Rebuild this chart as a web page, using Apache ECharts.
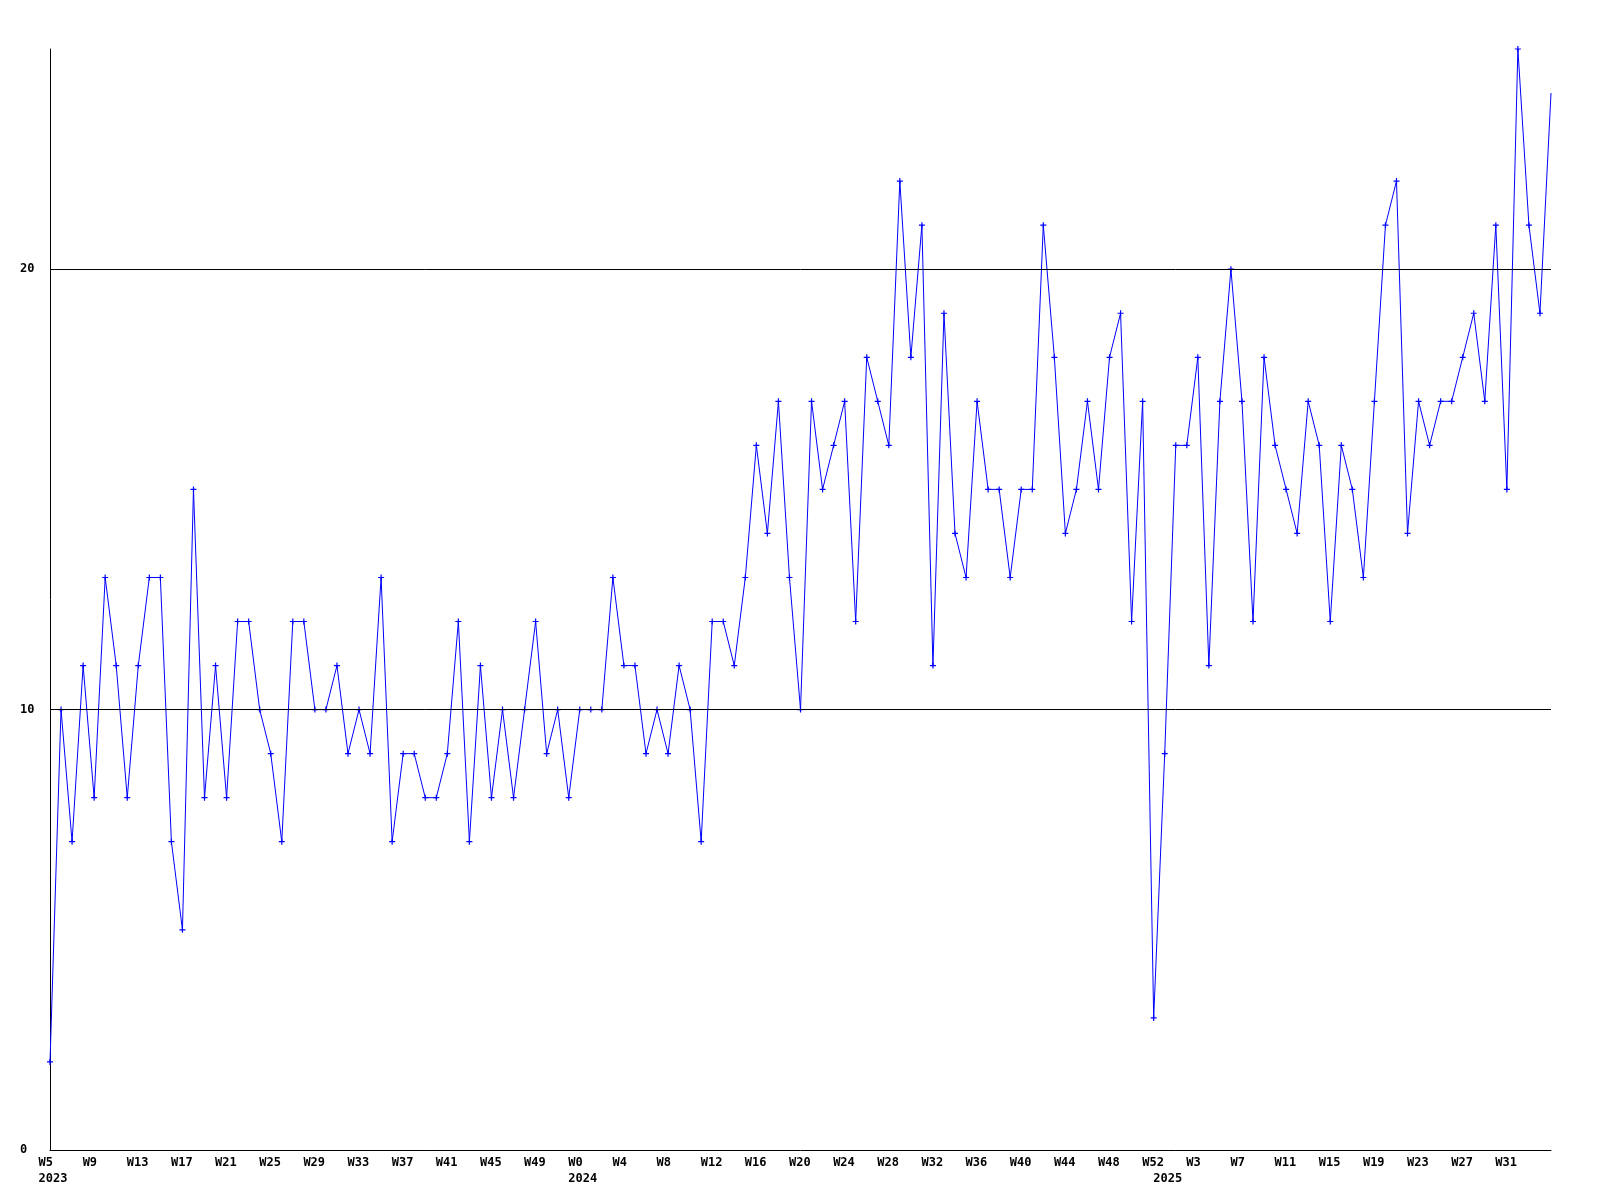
<!DOCTYPE html>
<html><head><meta charset="utf-8">
<script src="https://cdn.jsdelivr.net/npm/echarts@6/dist/echarts.min.js"></script>
<style>html,body{margin:0;padding:0;background:#fff}#c{width:1600px;height:1200px}</style>
</head><body><div id="c"></div>
<script>
// Week numbers per year (x categories)
const weeks2023 = [5,6,7,8,9,10,11,12,13,14,15,16,17,18,19,20,21,22,23,24,25,26,27,28,29,30,31,32,33,34,35,36,37,38,39,40,41,42,43,44,45,46,47,48,49,50,51,52];
const weeks2024 = [0,1,2,3,4,5,6,7,8,9,10,11,12,13,14,15,16,17,18,19,20,21,22,23,24,25,26,27,28,29,30,31,32,33,34,35,36,37,38,39,40,41,42,43,44,45,46,47,48,49,50,51,52];
const weeks2025 = [0,1,2,3,4,5,6,7,8,9,10,11,12,13,14,15,16,17,18,19,20,21,22,23,24,25,26,27,28,29,30,31,32,33,34,35];

// Weekly values
const values2023 = [2,10,7,11,8,13,11,8,11,13,13,7,5,15,8,11,8,12,12,10,9,7,12,12,10,10,11,9,10,9,13,7,9,9,8,8,9,12,7,11,8,10,8,10,12,9,10,8];
const values2024 = [10,10,10,13,11,11,9,10,9,11,10,7,12,12,11,13,16,14,17,13,10,17,15,16,17,12,18,17,16,22,18,21,11,19,14,13,17,15,15,13,15,15,21,18,14,15,17,15,18,19,12,17,3];
const values2025 = [9,16,16,18,11,17,20,17,12,18,16,15,14,17,16,12,16,15,13,17,21,22,14,17,16,17,17,18,19,17,21,15,25,21,19,24];

// Axis settings
const yMin = 0, yMax = 25, yInterval = 10;
const gridValues = [10, 20];
const labelEvery = 4;

const years = [[2023, weeks2023, values2023],[2024, weeks2024, values2024],[2025, weeks2025, values2025]];
const categories = [];
const values = [];
const yearStart = {};
years.forEach(([yr, wk, vals]) => {
  yearStart[categories.length] = yr;
  wk.forEach((w, i) => { categories.push(yr + '-W' + w); values.push(vals[i]); });
});

const FONT = 'DejaVu Sans Mono';
const plus = 'path://M2 0L3 0L3 2L5 2L5 3L3 3L3 5L2 5L2 3L0 3L0 2L2 2Z';
const lastIdx = values.length - 1;

const chart = echarts.init(document.getElementById('c'), null, {renderer: 'canvas'});
chart.setOption({
  animation: false,
  backgroundColor: '#ffffff',
  grid: {left: 50, right: 49, top: 49, bottom: 50, containLabel: false},
  xAxis: {
    type: 'category',
    data: categories,
    boundaryGap: false,
    axisLine: {show: true, lineStyle: {color: '#000', width: 1}},
    axisTick: {show: false},
    splitLine: {show: false},
    axisLabel: {
      interval: (i) => (i % labelEvery === 0) || (yearStart[i] !== undefined),
      align: 'center',
      width: 23,
      margin: 5,
      lineHeight: 16,
      color: '#000',
      fontFamily: FONT,
      fontWeight: 'bold',
      fontSize: 12,
      formatter: (val, i) => {
        if (i === lastIdx) return '';
        const w = val.split('-')[1];
        const first = (i % labelEvery === 0) ? w : ' ';
        if (yearStart[i] !== undefined) return '{w|' + first + '}\n{w|' + yearStart[i] + '}';
        return '{w|' + first + '}';
      },
      rich: {w: {align: 'left', fontFamily: FONT, fontWeight: 'bold', fontSize: 12, lineHeight: 16, color: '#000'}}
    }
  },
  yAxis: {
    type: 'value',
    min: yMin, max: yMax, interval: yInterval,
    axisLine: {show: true, lineStyle: {color: '#000', width: 1}},
    axisTick: {show: false},
    splitLine: {show: false},
    axisLabel: {
      align: 'left',
      margin: 30,
      color: '#000',
      fontFamily: FONT,
      fontWeight: 'bold',
      fontSize: 12,
      formatter: (v) => (v === yMax ? '' : String(v))
    }
  },
  series: [
    {
      type: 'line', data: [], z: 1, silent: true,
      markLine: {
        silent: true, symbol: ['none', 'none'], label: {show: false},
        lineStyle: {color: '#000', width: 1, type: 'solid'},
        data: gridValues.map(v => ({yAxis: v}))
      }
    },
    {
      type: 'line', data: values, z: 3,
      lineStyle: {color: '#0000ff', width: 1},
      itemStyle: {color: '#0000ff'},
      symbol: (v, p) => (p.dataIndex === lastIdx ? 'none' : plus),
      symbolSize: 6,
      showAllSymbol: true
    }
  ]
});
</script>
</body></html>
